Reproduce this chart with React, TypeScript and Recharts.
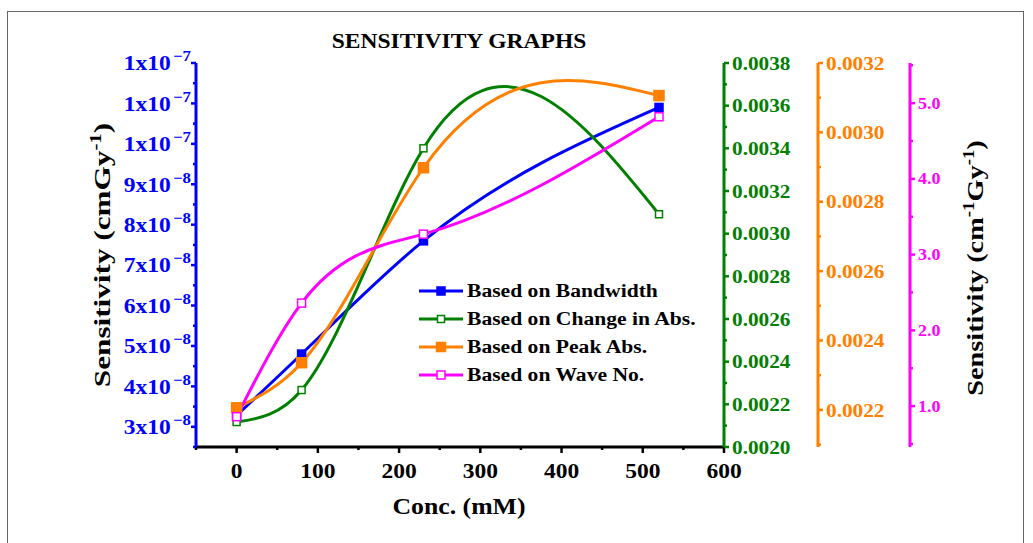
import { LineChart, Line, XAxis, YAxis, Legend } from 'recharts';

// concentrations (mM)
const conc = [0, 80, 230, 520];
// sensitivity series
const bandwidth = [3.28e-8, 4.8e-8, 7.6e-8, 1.09e-7];
const changeAbs = [0.002117, 0.002267, 0.0034, 0.003091];
const peakAbs = [0.002206, 0.002336, 0.002898, 0.003106];
const waveNo = [0.86, 2.36, 3.27, 4.82];

const xTicks = [-50, 0, 50, 100, 150, 200, 250, 300, 350, 400, 450, 500, 550, 600];
const xMajor = [0, 100, 200, 300, 400, 500, 600];
const topTicks = [-50, 15, 80, 145, 210, 275, 340, 405, 470, 535, 600];
const leftTicks = [
  2.5e-8, 3e-8, 3.5e-8, 4e-8, 4.5e-8, 5e-8, 5.5e-8, 6e-8, 6.5e-8, 7e-8,
  7.5e-8, 8e-8, 8.5e-8, 9e-8, 9.5e-8, 1e-7, 1.05e-7, 1.1e-7, 1.15e-7, 1.2e-7,
];
const greenTicks = [
  0.002, 0.0021, 0.0022, 0.0023, 0.0024, 0.0025, 0.0026, 0.0027, 0.0028, 0.0029,
  0.003, 0.0031, 0.0032, 0.0033, 0.0034, 0.0035, 0.0036, 0.0037, 0.0038,
];
const orangeTicks = [
  0.0021, 0.0022, 0.0023, 0.0024, 0.0025, 0.0026, 0.0027, 0.0028, 0.0029, 0.003, 0.0031, 0.0032,
];
const magentaTicks = [0.5, 1, 1.5, 2, 2.5, 3, 3.5, 4, 4.5, 5, 5.5];

const data = conc.map((c, i) => ({
  x: c,
  bw: bandwidth[i],
  ca: changeAbs[i],
  pa: peakAbs[i],
  wn: waveNo[i],
}));

const FONT = '"Liberation Serif", "Times New Roman", serif';
const SX = 1.12;
const BLUE = '#0000ff';
const GREEN = '#008000';
const ORANGE = '#ff8000';
const MAGENTA = '#ff00ff';

// natural cubic spline with x as the independent variable (like Origin's spline connector)
function splineX(context: any) {
  let xs: number[] = [];
  let ys: number[] = [];
  return {
    areaStart() {},
    areaEnd() {},
    lineStart() {
      xs = [];
      ys = [];
    },
    point(x: number, y: number) {
      xs.push(+x);
      ys.push(+y);
    },
    lineEnd() {
      const n = xs.length;
      if (!n) return;
      context.moveTo(xs[0], ys[0]);
      if (n === 1) return;
      if (n === 2) {
        context.lineTo(xs[1], ys[1]);
        return;
      }
      const h: number[] = [];
      for (let i = 0; i < n - 1; i++) h.push(xs[i + 1] - xs[i]);
      const a: number[] = [];
      const b: number[] = [];
      const c: number[] = [];
      const r: number[] = [];
      for (let i = 1; i < n - 1; i++) {
        a.push(h[i - 1]);
        b.push(2 * (h[i - 1] + h[i]));
        c.push(h[i]);
        r.push(6 * ((ys[i + 1] - ys[i]) / h[i] - (ys[i] - ys[i - 1]) / h[i - 1]));
      }
      const m = n - 2;
      for (let i = 1; i < m; i++) {
        const w = a[i] / b[i - 1];
        b[i] -= w * c[i - 1];
        r[i] -= w * r[i - 1];
      }
      const sol = new Array(m).fill(0);
      sol[m - 1] = r[m - 1] / b[m - 1];
      for (let i = m - 2; i >= 0; i--) sol[i] = (r[i] - c[i] * sol[i + 1]) / b[i];
      const M = [0, ...sol, 0];
      for (let i = 0; i < n - 1; i++) {
        const hi = h[i];
        const s = (ys[i + 1] - ys[i]) / hi;
        const d0 = s - (hi * (2 * M[i] + M[i + 1])) / 6;
        const d1 = s + (hi * (M[i] + 2 * M[i + 1])) / 6;
        context.bezierCurveTo(
          xs[i] + hi / 3,
          ys[i] + (d0 * hi) / 3,
          xs[i + 1] - hi / 3,
          ys[i + 1] - (d1 * hi) / 3,
          xs[i + 1],
          ys[i + 1],
        );
      }
    },
  };
}

const isMajorStep = (v: number, step: number) => Math.abs(v / step - Math.round(v / step)) < 1e-6;

function leftTick(props: any) {
  const { x, y, payload } = props;
  const v = payload.value as number;
  const major = isMajorStep(v, 1e-8);
  const len = major ? 5 : 3;
  let mant = 0;
  let exp = '';
  if (v >= 0.999e-7) {
    mant = Math.round(v / 1e-7);
    exp = '-7';
  } else {
    mant = Math.round(v / 1e-8);
    exp = '-8';
  }
  return (
    <g>
      <line x1={x} y1={y} x2={x - len} y2={y} stroke={BLUE} strokeWidth={2.5} />
      {major && (
        <g transform={`translate(${x - 5},${y}) scale(${SX},1)`}>
          <text textAnchor="end" dy="0.35em" fill={BLUE} fontFamily={FONT} fontWeight="bold" fontSize={21}>
            <tspan>{`${mant}x10`}</tspan>
            <tspan dx={2} dy={-9} fontSize={15}>{exp.replace('-', '\u2212')}</tspan>
          </text>
        </g>
      )}
    </g>
  );
}

function rightTick(color: string, step: number, fmt: (v: number) => string, size: number) {
  return (props: any) => {
    const { x, y, payload } = props;
    const v = payload.value as number;
    const major = isMajorStep(v, step);
    const len = major ? 5 : 3;
    return (
      <g>
        <line x1={x} y1={y} x2={x + len} y2={y} stroke={color} strokeWidth={2.5} />
        {major && (
          <g transform={`translate(${x + 8},${y}) scale(${SX},1)`}>
            <text textAnchor="start" dy="0.35em" fill={color} fontFamily={FONT} fontWeight="bold" fontSize={size}>
              {fmt(v)}
            </text>
          </g>
        )}
      </g>
    );
  };
}

const greenTick = rightTick(GREEN, 0.0002, (v) => v.toFixed(4), 19);
const orangeTick = rightTick(ORANGE, 0.0002, (v) => v.toFixed(4), 19);
const magentaTick = rightTick(MAGENTA, 1, (v) => v.toFixed(1), 16);

function bottomTick(props: any) {
  const { x, y, payload } = props;
  const v = payload.value as number;
  const major = xMajor.includes(v);
  const len = major ? 6 : 3;
  return (
    <g>
      <line x1={x} y1={y} x2={x} y2={y + len} stroke="#000" strokeWidth={2.5} />
      {major && (
        <g transform={`translate(${x},${y + 31}) scale(${SX},1)`}>
          <text textAnchor="middle" fill="#000" fontFamily={FONT} fontWeight="bold" fontSize={21}>
            {v}
          </text>
        </g>
      )}
    </g>
  );
}

function topTick(props: any) {
  const { x, y, index } = props;
  const len = index % 2 === 0 ? 3 : 5;
  return <line x1={x} y1={y} x2={x} y2={y + len} stroke="#000" strokeWidth={2.5} />;
}

const squareDot = (size: number, stroke: string, fill: string, name: string) => (p: any) => (
  <rect
    key={`${name}-${p.index}`}
    x={p.cx - size / 2}
    y={p.cy - size / 2}
    width={size}
    height={size}
    fill={fill}
    stroke={stroke}
    strokeWidth={1.5}
  />
);

const legendItems = [
  { label: 'Based on Bandwidth', color: BLUE, fill: BLUE, size: 8 },
  { label: 'Based on Change in Abs.', color: GREEN, fill: '#fff', size: 7 },
  { label: 'Based on Peak Abs.', color: ORANGE, fill: ORANGE, size: 9 },
  { label: 'Based on Wave No.', color: MAGENTA, fill: '#fff', size: 8 },
];

function LegendBox() {
  return (
    <div style={{ display: 'flex', flexDirection: 'column' }}>
      {legendItems.map((it) => (
        <div key={it.label} style={{ display: 'flex', alignItems: 'center', height: 28 }}>
          <svg width={46} height={14} style={{ flex: 'none' }}>
            <line x1={1} y1={7} x2={45} y2={7} stroke={it.color} strokeWidth={3} />
            <rect
              x={23 - it.size / 2}
              y={7 - it.size / 2}
              width={it.size}
              height={it.size}
              fill={it.fill}
              stroke={it.color}
              strokeWidth={1.5}
            />
          </svg>
          <span
            style={{
              marginLeft: 3,
              fontFamily: FONT,
              fontWeight: 'bold',
              fontSize: 18,
              color: '#000',
              whiteSpace: 'nowrap',
              display: 'inline-block',
              transform: `scaleX(${SX + 0.08})`,
              transformOrigin: 'left center',
            }}
          >
            {it.label}
          </span>
        </div>
      ))}
    </div>
  );
}

const textBase: React.CSSProperties = {
  position: 'absolute',
  fontFamily: FONT,
  fontWeight: 'bold',
  color: '#000',
  whiteSpace: 'nowrap',
  textAlign: 'center',
};

export default function App() {
  return (
    <div style={{ position: 'absolute', left: 0, top: 0, width: 1033, height: 543, background: '#fff', overflow: 'hidden' }}>
      <div
        style={{
          position: 'absolute',
          left: 7,
          top: 11,
          width: 1017,
          height: 540,
          border: '1px solid #666',
          boxSizing: 'border-box',
        }}
      />
      <LineChart width={1033} height={543} data={data} margin={{ top: 63, right: 0, bottom: 0, left: 0 }}>
        <XAxis
          dataKey="x"
          type="number"
          domain={[-50, 600]}
          ticks={xTicks}
          interval={0}
          allowDataOverflow
          height={96}
          tickSize={0}
          tickMargin={0}
          tickLine={false}
          tick={bottomTick}
          axisLine={{ stroke: '#000', strokeWidth: 3 }}
        />
        <XAxis
          xAxisId="top"
          orientation="top"
          dataKey="x"
          type="number"
          domain={[-50, 600]}
          ticks={topTicks}
          interval={0}
          allowDataOverflow
          height={0}
          tickSize={0}
          tickMargin={0}
          tickLine={false}
          tick={topTick}
          axisLine={{ stroke: '#000', strokeWidth: 3 }}
        />
        <YAxis
          yAxisId="bw"
          orientation="left"
          width={196}
          type="number"
          domain={[2.5e-8, 1.2e-7]}
          ticks={leftTicks}
          interval={0}
          allowDataOverflow
          tickSize={0}
          tickMargin={0}
          tickLine={false}
          tick={leftTick}
          axisLine={{ stroke: BLUE, strokeWidth: 3 }}
        />
        <YAxis
          yAxisId="ca"
          orientation="right"
          width={94}
          type="number"
          domain={[0.002, 0.0038]}
          ticks={greenTicks}
          interval={0}
          allowDataOverflow
          tickSize={0}
          tickMargin={0}
          tickLine={false}
          tick={greenTick}
          axisLine={{ stroke: GREEN, strokeWidth: 3 }}
        />
        <YAxis
          yAxisId="pa"
          orientation="right"
          width={92}
          type="number"
          domain={[0.002093, 0.0032]}
          ticks={orangeTicks}
          interval={0}
          allowDataOverflow
          tickSize={0}
          tickMargin={0}
          tickLine={false}
          tick={orangeTick}
          axisLine={{ stroke: ORANGE, strokeWidth: 3 }}
        />
        <YAxis
          yAxisId="wn"
          orientation="right"
          width={123}
          type="number"
          domain={[0.46, 5.53]}
          ticks={magentaTicks}
          interval={0}
          allowDataOverflow
          tickSize={0}
          tickMargin={0}
          tickLine={false}
          tick={magentaTick}
          axisLine={{ stroke: MAGENTA, strokeWidth: 3 }}
        />
        <Line
          yAxisId="bw"
          dataKey="bw"
          name="Based on Bandwidth"
          type={splineX as any}
          stroke={BLUE}
          strokeWidth={3}
          dot={squareDot(8, BLUE, BLUE, 'bw')}
          isAnimationActive={false}
        />
        <Line
          yAxisId="ca"
          dataKey="ca"
          name="Based on Change in Abs."
          type={splineX as any}
          stroke={GREEN}
          strokeWidth={3}
          dot={squareDot(7, GREEN, '#fff', 'ca')}
          isAnimationActive={false}
        />
        <Line
          yAxisId="pa"
          dataKey="pa"
          name="Based on Peak Abs."
          type={splineX as any}
          stroke={ORANGE}
          strokeWidth={3}
          dot={squareDot(10, ORANGE, ORANGE, 'pa')}
          isAnimationActive={false}
        />
        <Line
          yAxisId="wn"
          dataKey="wn"
          name="Based on Wave No."
          type={splineX as any}
          stroke={MAGENTA}
          strokeWidth={3}
          dot={squareDot(8, MAGENTA, '#fff', 'wn')}
          isAnimationActive={false}
        />
        <Legend
          layout="horizontal"
          verticalAlign="middle"
          align="center"
          content={() => <LegendBox />}
          wrapperStyle={{ left: 418, top: 277, width: 'auto', height: 'auto' }}
        />
      </LineChart>
      <div style={{ ...textBase, left: 259, top: 29, width: 400, fontSize: 21, transform: `scaleX(${SX})` }}>
        SENSITIVITY GRAPHS
      </div>
      <div style={{ ...textBase, left: 259, top: 494, width: 400, fontSize: 23, transform: `scaleX(${SX})` }}>
        Conc. (mM)
      </div>
      <div
        style={{
          ...textBase,
          left: 96 - 200,
          top: 255 - 15,
          width: 400,
          height: 30,
          fontSize: 24,
          lineHeight: '30px',
          transform: 'rotate(-90deg) scaleX(1.3)',
        }}
      >
        Sensitivity (cmGy<sup style={{ fontSize: 16 }}>-1</sup>)
      </div>
      <div
        style={{
          ...textBase,
          left: 969 - 200,
          top: 268 - 15,
          width: 400,
          height: 30,
          fontSize: 24,
          lineHeight: '30px',
          transform: 'rotate(-90deg) scaleX(1.18)',
        }}
      >
        Sensitivity (cm<sup style={{ fontSize: 16 }}>-1</sup>Gy<sup style={{ fontSize: 16 }}>-1</sup>)
      </div>
    </div>
  );
}
